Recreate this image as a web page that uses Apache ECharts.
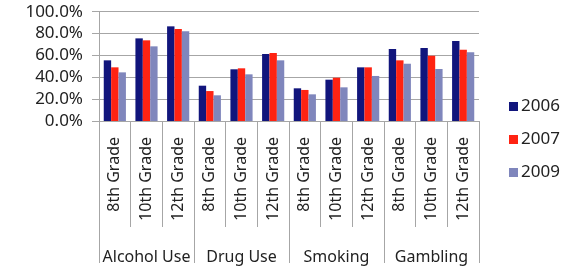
<!DOCTYPE html>
<html>
<head>
<meta charset="utf-8">
<script src="https://cdn.jsdelivr.net/npm/echarts@6/dist/echarts.min.js"></script>
<style>
  html, body { margin: 0; padding: 0; background: #fff; }
  #chart { width: 577px; height: 266px; }
</style>
</head>
<body>
<div id="chart"></div>
<script>
// categories
let grades = ['8th Grade', '10th Grade', '12th Grade',
              '8th Grade', '10th Grade', '12th Grade',
              '8th Grade', '10th Grade', '12th Grade',
              '8th Grade', '10th Grade', '12th Grade'];
let groups = ['Alcohol Use', 'Drug Use', 'Smoking', 'Gambling'];
let years = ['2006', '2007', '2009'];

// values in percent
let v2006 = [55.5, 75.6, 86.6, 32.3, 47.3, 61.3, 29.9, 37.8, 49.1, 65.9, 66.8, 73.2];
let v2007 = [49.1, 73.8, 84.2, 27.4, 48.2, 62.2, 28.4, 39.6, 49.1, 55.5, 59.7, 65.2];
let v2009 = [44.5, 68.3, 82.0, 23.5, 42.7, 55.5, 24.4, 30.8, 41.2, 52.4, 47.6, 62.9];

let colors = ['#11157c', '#ff2312', '#7f86bc'];
let gray = '#a6a6a6';

let chart = echarts.init(document.getElementById('chart'));

let option = {
  animation: false,
  color: colors,
  textStyle: { fontFamily: 'Noto Sans', color: '#222' },
  grid: { left: 99, right: 98, top: 11.7, bottom: 145, containLabel: false },
  legend: {
    orient: 'vertical',
    left: 504,
    top: 93,
    itemWidth: 9,
    itemHeight: 9,
    itemGap: 16,
    itemStyle: { borderWidth: 0 },
    icon: 'rect',
    textStyle: { fontSize: 17, color: '#222', fontFamily: 'Noto Sans', padding: [0, 0, 0, -2] },
    data: years
  },
  xAxis: [
    {
      type: 'category',
      data: grades,
      position: 'bottom',
      axisLine: { show: true, lineStyle: { color: gray } },
      axisTick: { show: true, length: 106, lineStyle: { color: gray } },
      axisLabel: { rotate: 90, margin: 16, fontSize: 16, color: '#222', interval: 0 }
    },
    {
      type: 'category',
      data: groups,
      position: 'bottom',
      offset: 0,
      axisLine: { show: false },
      axisTick: { show: true, length: 142, lineStyle: { color: gray } },
      axisLabel: { margin: 128, fontSize: 16, color: '#222', interval: 0 },
      splitLine: { show: false }
    }
  ],
  yAxis: {
    type: 'value',
    min: 0,
    max: 100,
    interval: 20,
    axisLine: { show: true, lineStyle: { color: gray } },
    axisTick: { show: true, length: 7, lineStyle: { color: gray } },
    axisLabel: {
      margin: 16,
      fontSize: 17,
      color: '#222',
      formatter: function (v) { return v.toFixed(1) + '%'; }
    },
    splitLine: { lineStyle: { color: gray } }
  },
  series: [
    { name: years[0], type: 'bar', data: v2006, barGap: '0%', barCategoryGap: '30%' },
    { name: years[1], type: 'bar', data: v2007, barGap: '0%', barCategoryGap: '30%' },
    { name: years[2], type: 'bar', data: v2009, barGap: '0%', barCategoryGap: '30%' }
  ]
};

chart.setOption(option);
</script>
</body>
</html>
